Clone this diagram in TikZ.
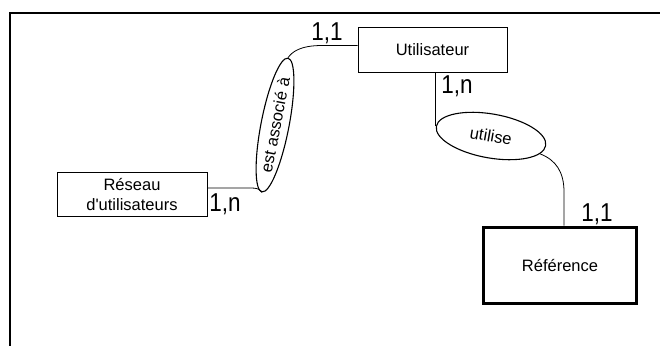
\documentclass[tikz,border=0pt]{standalone}
\usepackage{fontspec}
\setmainfont{Liberation Sans}
\usetikzlibrary{shapes.geometric}
\newcommand{\tallcard}[1]{\scalebox{1}[1.15]{#1}}
\begin{document}
\begin{tikzpicture}[x=1pt,y=-1pt,
  entity/.style={draw, line width=0.9pt, inner sep=0pt, align=center,
    font=\fontsize{16.5}{20}\selectfont},
  relation/.style={draw, ellipse, line width=1.1pt, inner sep=0pt,
    font=\fontsize{16.5}{20}\selectfont},
  card/.style={anchor=base, inner sep=0pt, font=\fontsize{22.5}{23}\selectfont},
  link/.style={line width=0.8pt}]
\useasboundingbox (0,0) rectangle (660,346);
% frame
\draw[line width=1.6pt] (10,13) -- (10,346);
\draw[line width=2pt] (9,13) -- (660,13);
% entities
\node[entity, minimum width=149pt, minimum height=45pt] (util) at (432.5,49.5) {Utilisateur};
\node[entity, minimum width=150pt, minimum height=44pt] (res) at (132,194) {R\'eseau\\d\textquotesingle utilisateurs};
\node[entity, line width=3pt, minimum width=153pt, minimum height=76pt] (ref) at (560,265) {R\'ef\'erence};
% relations
\node[relation, rotate=79, minimum width=122pt, minimum height=28pt] (assoc) at (275,125) {est associ\'e \`a};
\node[relation, rotate=-10, minimum width=111pt, minimum height=44pt] (utilise) at (491,136) {utilise};
% connectors
\draw[link] ([yshift=4pt]util.west) -- (322,45.5) .. controls (300,45.5) and (292,52) .. (assoc.east);
\draw[link] ([yshift=6pt]res.east) -- (240,188) .. controls (252,188) and (259,187) .. (assoc.west);
\draw[link] (util.south -| utilise.west) -- (utilise.west);
\draw[link] (utilise.-10) .. controls (556,160) and (564,172) .. (564,192) -- ([xshift=4pt]ref.north);
% cardinalities
\node[card] (c1) at (327,40.5) {\tallcard{1,1}};
\node[card] (c2) at (225,211.5) {\tallcard{1,n}};
\node[card] (c3) at (457,93) {\tallcard{1,n}};
\node[card] (c4) at (597,221) {\tallcard{1,1}};
\end{tikzpicture}
\end{document}
